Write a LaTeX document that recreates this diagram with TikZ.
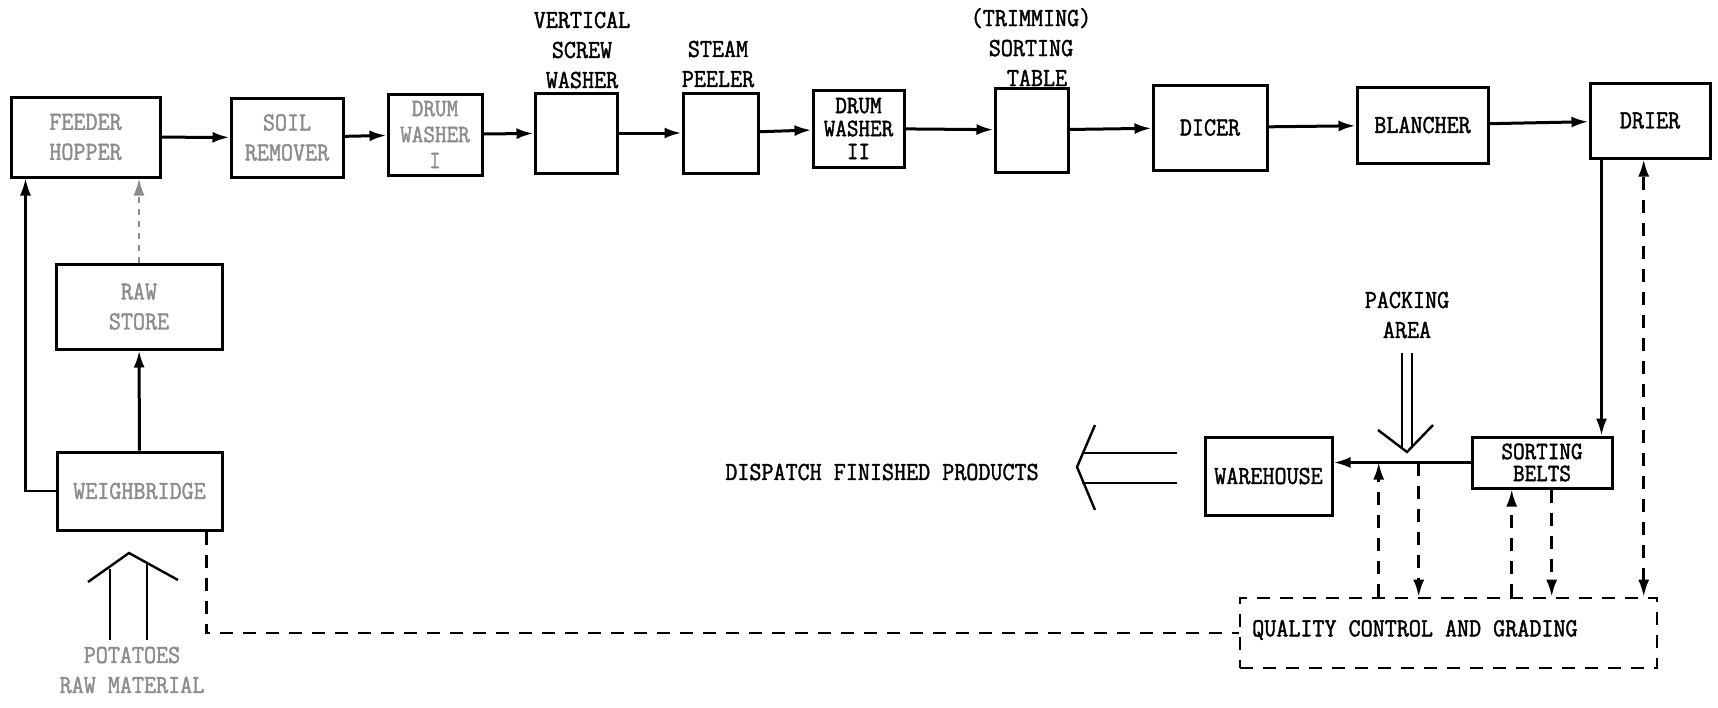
\documentclass[tikz,border=0pt]{standalone}
\usepackage{fontspec}
\setmainfont{Latin Modern Mono}[FakeStretch=0.9,FakeBold=1.6]
\usetikzlibrary{arrows.meta}
\colorlet{faint}{black!45}
\begin{document}
\begin{tikzpicture}[x=1pt,y=-1pt,
  box/.style={draw,line width=3pt,inner sep=0pt,align=center,font=\fontsize{26}{30}\selectfont},
  lbl/.style={inner sep=0pt,align=center,font=\fontsize{26}{30}\selectfont},
  tip/.style={-{Latex[length=17pt,width=11pt]}},
  conn/.style={line width=3pt,tip},
  dconn/.style={line width=2.6pt,dash pattern=on 13pt off 10pt,tip},
  dline/.style={line width=2.6pt,dash pattern=on 13pt off 10pt},
  bigarrow/.style={line width=2.4pt,line join=miter}]
\useasboundingbox (0,0) rectangle (1718,707);

% top row
\node[box,minimum width=149pt,minimum height=80pt,text=faint] (feeder) at (85.5,137) {FEEDER\\HOPPER};
\node[box,minimum width=112pt,minimum height=79pt,text=faint] (soil) at (287,137.5) {SOIL\\REMOVER};
\node[box,minimum width=94pt,minimum height=81pt,text=faint,font=\fontsize{25}{26}\selectfont] (drum1) at (435,134.5) {DRUM\\WASHER\\I};
\node[box,minimum width=82pt,minimum height=80pt] (vsw) at (576,133) {};
\node[box,minimum width=75pt,minimum height=80pt] (peeler) at (720.5,133) {};
\node[box,minimum width=91pt,minimum height=77pt,font=\fontsize{25}{23}\selectfont] (drum2) at (858.5,128.5) {DRUM\\WASHER\\II};
\node[box,minimum width=73pt,minimum height=84pt] (table) at (1031.5,130) {};
\node[box,minimum width=114pt,minimum height=85pt] (dicer) at (1210,127.5) {DICER};
\node[box,minimum width=131pt,minimum height=76pt] (blancher) at (1422.5,125) {BLANCHER};
\node[box,minimum width=120pt,minimum height=75pt] (drier) at (1650,120.5) {DRIER};

% labels above boxes
\node[lbl] (vswl) at (582,50) {VERTICAL\\SCREW\\WASHER};
\node[lbl] (peelerl) at (718,64) {STEAM\\PEELER};
\node[lbl] (tablel) at (1031,47) {(TRIMMING)\\SORTING\\\hspace*{12pt}TABLE};

% top-row connectors
\draw[conn] (feeder) -- (soil);
\draw[conn] (soil) -- (drum1);
\draw[conn] (drum1) -- (vsw);
\draw[conn] (vsw) -- (peeler);
\draw[conn] (peeler) -- (drum2);
\draw[conn] (drum2) -- (table);
\draw[conn] (table) -- (dicer);
\draw[conn] (dicer) -- (blancher);
\draw[conn] (blancher) -- (drier);

% left column
\node[box,minimum width=166pt,minimum height=85pt,text=faint] (store) at (139,306.5) {RAW\\STORE};
\node[box,minimum width=165pt,minimum height=78pt,text=faint] (weigh) at (139.5,491) {WEIGHBRIDGE};
\draw[conn] (weigh) -- (store);
\draw[line width=2pt,faint,dash pattern=on 6pt off 6pt,tip] (store.north) -- (store.north |- feeder.south);
\coordinate (fl) at ([xshift=16pt]feeder.south west);
\draw[line width=2.2pt,tip] (weigh.west) -| (fl);

% raw material arrow
\draw[bigarrow] (110,640) -- (110,569);
\draw[bigarrow] (147,640) -- (147,562);
\draw[bigarrow] (88,582) -- (129,553) -- (178,580);
\node[lbl,text=faint] (rawl) at (132,670) {POTATOES\\RAW MATERIAL};

% right part
\node[box,minimum width=140pt,minimum height=51pt,font=\fontsize{25}{22}\selectfont] (belts) at (1542,462.5) {SORTING\\BELTS};
\node[box,minimum width=127pt,minimum height=78pt] (ware) at (1268.5,476) {WAREHOUSE};
\node[draw,line width=2.6pt,dash pattern=on 13pt off 10pt,minimum width=417pt,minimum height=70pt] (qc) at (1448.5,633) {};
\node[lbl,anchor=west] (qcl) at (1252,630) {QUALITY CONTROL AND GRADING};

\coordinate (ds) at ([xshift=13pt]drier.south west);
\coordinate (bn) at ([xshift=-12pt]belts.north east);
\draw[line width=2.4pt,tip] (ds) -- (bn);
\coordinate (we) at (ware.east |- belts.west);
\draw[conn] (belts.west) -- (we);

% packing area arrow
\node[lbl] (packl) at (1407,315) {PACKING\\AREA};
\draw[bigarrow] (1402,353) -- (1402,447);
\draw[bigarrow] (1412,353) -- (1412,447);
\draw[bigarrow] (1378,430) -- (1407,452) -- (1433,425);

% dispatch
\node[lbl] (displ) at (882,472) {DISPATCH FINISHED PRODUCTS};
\draw[bigarrow] (1082,453) -- (1177,453);
\draw[bigarrow] (1082,483) -- (1177,483);
\draw[bigarrow] (1095,425) -- (1077,467) -- (1095,510);

% dashed QC links
\coordinate (q1) at ([xshift=140pt]qc.north west);
\coordinate (q2) at ([xshift=180pt]qc.north west);
\coordinate (q3) at ([xshift=273pt]qc.north west);
\coordinate (q4) at ([xshift=313pt]qc.north west);
\coordinate (q5) at ([xshift=405pt]qc.north west);
\draw[dconn] (q1) -- (q1 |- belts.west);
\draw[dconn] (q2 |- belts.west) -- (q2);
\draw[dconn] (q3) -- (q3 |- belts.south);
\draw[dconn] (q4 |- belts.south) -- (q4);
\draw[dconn,{Latex[length=17pt,width=11pt]}-{Latex[length=17pt,width=11pt]}] (q5) -- (q5 |- drier.south);

% weighbridge to QC
\coordinate (w1) at ([xshift=-17pt]weigh.south east);
\draw[dline] (w1) -- (w1 |- qc.west) -- (qc.west);
\end{tikzpicture}
\end{document}
